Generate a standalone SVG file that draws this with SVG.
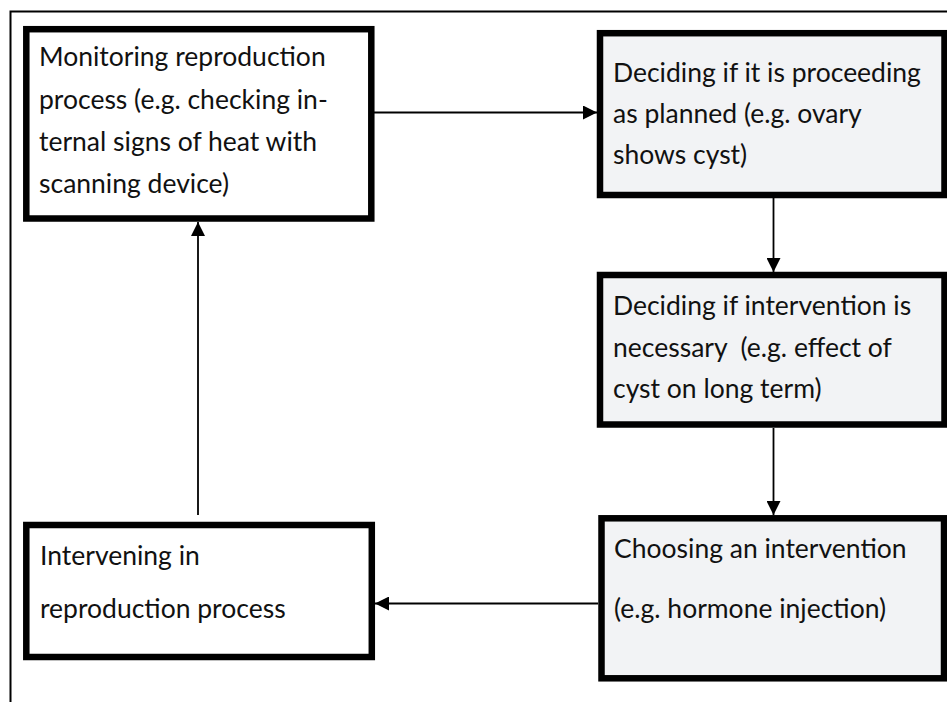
<svg xmlns="http://www.w3.org/2000/svg" width="947" height="702" viewBox="0 0 947 702">
  <style>
    .box { stroke: #000; stroke-width: 6.5; }
    .plain { fill: #ffffff; }
    .shaded { fill: #f2f3f5; }
    .label { font-family: Lato, "Open Sans", "Liberation Sans", sans-serif; font-size: 26.5px; fill: #111; }
    .link { stroke: #000; stroke-width: 1.8; fill: none; marker-end: url(#head); }
  </style>
  <defs>
    <marker id="head" viewBox="0 0 14 14" refX="14" refY="7" markerWidth="14" markerHeight="14" markerUnits="userSpaceOnUse" orient="auto">
      <path d="M0,0 L14,7 L0,14 Z" fill="#000"/>
    </marker>
  </defs>

  <rect width="947" height="702" fill="#ffffff"/>
  <!-- outer frame -->
  <rect x="10.5" y="11.5" width="960" height="720" fill="none" stroke="#000" stroke-width="2"/>

  <g id="connectors">
    <line class="link" x1="374" y1="112.5" x2="597" y2="112.5"/>
    <line class="link" x1="773.5" y1="198" x2="773.5" y2="272"/>
    <line class="link" x1="773.5" y1="428" x2="773.5" y2="515"/>
    <line class="link" x1="598" y1="603.5" x2="375" y2="603.5"/>
    <line class="link" x1="198" y1="515" x2="198" y2="222"/>
  </g>

  <g id="monitoring">
    <rect class="box plain" x="26.3" y="29.2" width="345" height="189.3"/>
    <text class="label" x="39" y="66">Monitoring reproduction</text>
    <text class="label" x="39" y="108.5">process (e.g. checking in-</text>
    <text class="label" x="39" y="151">ternal signs of heat with</text>
    <text class="label" x="39" y="193">scanning device)</text>
  </g>

  <g id="deciding-planned">
    <rect class="box shaded" x="600" y="33.2" width="344.5" height="161.8"/>
    <text class="label" x="613" y="82">Deciding if it is proceeding</text>
    <text class="label" x="613" y="123">as planned (e.g. ovary</text>
    <text class="label" x="613" y="164">shows cyst)</text>
  </g>

  <g id="deciding-intervention">
    <rect class="box shaded" x="600" y="275" width="344.5" height="149.5"/>
    <text class="label" x="613" y="315">Deciding if intervention is</text>
    <text class="label" x="613" y="357" xml:space="preserve">necessary  (e.g. effect of</text>
    <text class="label" x="613" y="398">cyst on long term)</text>
  </g>

  <g id="choosing">
    <rect class="box shaded" x="601.5" y="518.3" width="342.5" height="160"/>
    <text class="label" x="614" y="558">Choosing an intervention</text>
    <text class="label" x="614" y="618">(e.g. hormone injection)</text>
  </g>

  <g id="intervening">
    <rect class="box plain" x="26.3" y="525" width="345.5" height="132"/>
    <text class="label" x="40" y="565">Intervening in</text>
    <text class="label" x="40" y="618">reproduction process</text>
  </g>
</svg>
